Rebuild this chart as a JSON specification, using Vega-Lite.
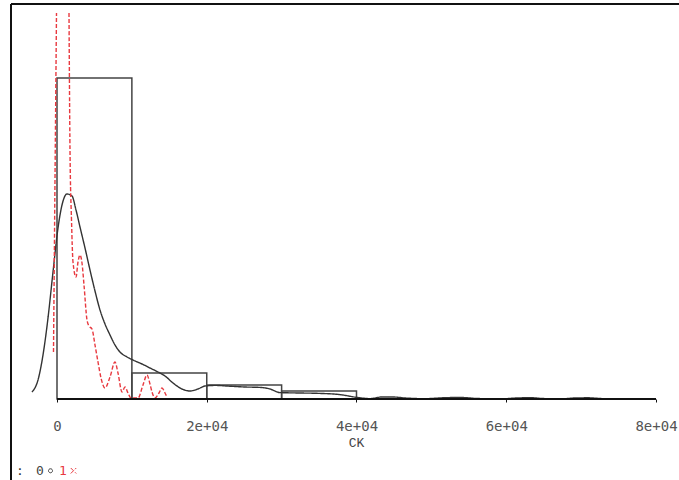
{
  "$schema": "https://vega.github.io/schema/vega-lite/v6.json",
  "width": 668,
  "height": 476,
  "autosize": {"type": "none"},
  "padding": {"left": 11, "top": 4, "right": 0, "bottom": 0},
  "background": "white",
  "config": {"view": {"stroke": null}},
  "datasets": {
    "hist": [
      {"lo": 0, "hi": 10000, "d": 8.025},
      {"lo": 10000, "hi": 20000, "d": 0.65},
      {"lo": 20000, "hi": 30000, "d": 0.35},
      {"lo": 30000, "hi": 40000, "d": 0.2}
    ],
    "dens": [
      {"grp": "0", "seg": "a", "x": -3339, "y": 0.175},
      {"grp": "0", "seg": "a", "x": -2538, "y": 0.475},
      {"grp": "0", "seg": "a", "x": -1870, "y": 1.1},
      {"grp": "0", "seg": "a", "x": -1202, "y": 2.025},
      {"grp": "0", "seg": "a", "x": -534, "y": 3.175},
      {"grp": "0", "seg": "a", "x": 134, "y": 4.275},
      {"grp": "0", "seg": "a", "x": 668, "y": 4.85},
      {"grp": "0", "seg": "a", "x": 1336, "y": 5.125},
      {"grp": "0", "seg": "a", "x": 2003, "y": 5.075},
      {"grp": "0", "seg": "a", "x": 2538, "y": 4.725},
      {"grp": "0", "seg": "a", "x": 3072, "y": 4.3},
      {"grp": "0", "seg": "a", "x": 3740, "y": 3.775},
      {"grp": "0", "seg": "a", "x": 4407, "y": 3.225},
      {"grp": "0", "seg": "a", "x": 5075, "y": 2.7},
      {"grp": "0", "seg": "a", "x": 5743, "y": 2.225},
      {"grp": "0", "seg": "a", "x": 6411, "y": 1.875},
      {"grp": "0", "seg": "a", "x": 7079, "y": 1.6},
      {"grp": "0", "seg": "a", "x": 7746, "y": 1.35},
      {"grp": "0", "seg": "a", "x": 8414, "y": 1.175},
      {"grp": "0", "seg": "a", "x": 9349, "y": 1.05},
      {"grp": "0", "seg": "a", "x": 10151, "y": 0.975},
      {"grp": "0", "seg": "a", "x": 11353, "y": 0.875},
      {"grp": "0", "seg": "a", "x": 12421, "y": 0.775},
      {"grp": "0", "seg": "a", "x": 13490, "y": 0.675},
      {"grp": "0", "seg": "a", "x": 14425, "y": 0.575},
      {"grp": "0", "seg": "a", "x": 15493, "y": 0.4},
      {"grp": "0", "seg": "a", "x": 16695, "y": 0.25},
      {"grp": "0", "seg": "a", "x": 17763, "y": 0.2},
      {"grp": "0", "seg": "a", "x": 18831, "y": 0.25},
      {"grp": "0", "seg": "a", "x": 19767, "y": 0.325},
      {"grp": "0", "seg": "a", "x": 21102, "y": 0.34},
      {"grp": "0", "seg": "a", "x": 23105, "y": 0.32},
      {"grp": "0", "seg": "a", "x": 25109, "y": 0.3},
      {"grp": "0", "seg": "a", "x": 27112, "y": 0.29},
      {"grp": "0", "seg": "a", "x": 28448, "y": 0.25},
      {"grp": "0", "seg": "a", "x": 29784, "y": 0.16},
      {"grp": "0", "seg": "a", "x": 32455, "y": 0.15},
      {"grp": "0", "seg": "a", "x": 35126, "y": 0.14},
      {"grp": "0", "seg": "a", "x": 37797, "y": 0.11},
      {"grp": "0", "seg": "a", "x": 40068, "y": 0.04},
      {"grp": "0", "seg": "a", "x": 41804, "y": 0.01},
      {"grp": "0", "seg": "a", "x": 43407, "y": 0.05},
      {"grp": "0", "seg": "a", "x": 44876, "y": 0.05},
      {"grp": "0", "seg": "a", "x": 46479, "y": 0.025},
      {"grp": "0", "seg": "a", "x": 49149, "y": 0.008},
      {"grp": "0", "seg": "a", "x": 51820, "y": 0.033},
      {"grp": "0", "seg": "a", "x": 53823, "y": 0.038},
      {"grp": "0", "seg": "a", "x": 56227, "y": 0.012},
      {"grp": "0", "seg": "a", "x": 59165, "y": 0.003},
      {"grp": "0", "seg": "a", "x": 61436, "y": 0.025},
      {"grp": "0", "seg": "a", "x": 63172, "y": 0.033},
      {"grp": "0", "seg": "a", "x": 64909, "y": 0.012},
      {"grp": "0", "seg": "a", "x": 67179, "y": 0.003},
      {"grp": "0", "seg": "a", "x": 69183, "y": 0.025},
      {"grp": "0", "seg": "a", "x": 70919, "y": 0.03},
      {"grp": "0", "seg": "a", "x": 72789, "y": 0.01},
      {"grp": "0", "seg": "a", "x": 75193, "y": 0},
      {"grp": "0", "seg": "a", "x": 77864, "y": 0},
      {"grp": "1", "seg": "b", "x": -467, "y": 1.175},
      {"grp": "1", "seg": "b", "x": -267, "y": 5.475},
      {"grp": "1", "seg": "b", "x": -67, "y": 9.65},
      {"grp": "1", "seg": "c", "x": 1603, "y": 9.65},
      {"grp": "1", "seg": "c", "x": 1736, "y": 6.225},
      {"grp": "1", "seg": "c", "x": 1937, "y": 4.475},
      {"grp": "1", "seg": "c", "x": 2137, "y": 3.425},
      {"grp": "1", "seg": "c", "x": 2538, "y": 3.05},
      {"grp": "1", "seg": "c", "x": 2805, "y": 3.425},
      {"grp": "1", "seg": "c", "x": 3072, "y": 3.6},
      {"grp": "1", "seg": "c", "x": 3339, "y": 3.4},
      {"grp": "1", "seg": "c", "x": 3606, "y": 2.85},
      {"grp": "1", "seg": "c", "x": 4007, "y": 1.975},
      {"grp": "1", "seg": "c", "x": 4274, "y": 1.825},
      {"grp": "1", "seg": "c", "x": 4675, "y": 1.75},
      {"grp": "1", "seg": "c", "x": 5075, "y": 1.35},
      {"grp": "1", "seg": "c", "x": 5476, "y": 0.925},
      {"grp": "1", "seg": "c", "x": 5877, "y": 0.525},
      {"grp": "1", "seg": "c", "x": 6411, "y": 0.275},
      {"grp": "1", "seg": "c", "x": 7079, "y": 0.55},
      {"grp": "1", "seg": "c", "x": 7746, "y": 0.925},
      {"grp": "1", "seg": "c", "x": 8147, "y": 0.65},
      {"grp": "1", "seg": "c", "x": 8681, "y": 0.175},
      {"grp": "1", "seg": "c", "x": 9082, "y": 0.3},
      {"grp": "1", "seg": "c", "x": 9483, "y": 0.15},
      {"grp": "1", "seg": "c", "x": 9883, "y": 0.025},
      {"grp": "1", "seg": "c", "x": 10818, "y": 0.025},
      {"grp": "1", "seg": "c", "x": 11486, "y": 0.35},
      {"grp": "1", "seg": "c", "x": 12020, "y": 0.6},
      {"grp": "1", "seg": "c", "x": 12421, "y": 0.375},
      {"grp": "1", "seg": "c", "x": 12688, "y": 0.175},
      {"grp": "1", "seg": "c", "x": 13089, "y": 0.025},
      {"grp": "1", "seg": "c", "x": 13623, "y": 0.15},
      {"grp": "1", "seg": "c", "x": 14024, "y": 0.275},
      {"grp": "1", "seg": "c", "x": 14425, "y": 0.15},
      {"grp": "1", "seg": "c", "x": 14692, "y": 0.05}
    ],
    "frame": [
      {"x": -6143.6, "x2": 83072, "y": 9.875, "y2": 9.875},
      {"x": -6143.6, "x2": -6143.6, "y": -2.025, "y2": 9.875}
    ],
    "baseline": [
      {"x": 0, "x2": 80000, "y": 0, "y2": 0}
    ]
  },
  "encoding": {
    "x": {
      "field": "x",
      "type": "quantitative",
      "scale": {"domain": [-6143.6, 83072], "nice": false, "zero": false},
      "axis": {
        "values": [0, 20000, 40000, 60000, 80000],
        "labelExpr": "datum.value == 0 ? '0' : (datum.value / 10000) + 'e+04'",
        "offset": -81,
        "domain": false,
        "grid": false,
        "ticks": true,
        "tickSize": 3,
        "tickColor": "#111111",
        "labelFont": "DejaVu Sans Mono",
        "labelFontSize": 14,
        "labelColor": "#555555",
        "labelPadding": 17,
        "labelFlush": false,
        "labelOverlap": false,
        "title": "CK",
        "titleFont": "Liberation Mono",
        "titleFontSize": 13,
        "titleFontWeight": "normal",
        "titleColor": "#444444",
        "titlePadding": 3,
        "titleX": 345
      }
    },
    "y": {
      "field": "y",
      "type": "quantitative",
      "scale": {"domain": [-2.025, 9.875], "nice": false, "zero": false},
      "axis": null
    }
  },
  "layer": [
    {
      "data": {"name": "frame"},
      "mark": {"type": "rule", "color": "#111111", "strokeWidth": 2},
      "encoding": {
        "x2": {"field": "x2"},
        "y2": {"field": "y2"}
      }
    },
    {
      "data": {"name": "hist"},
      "mark": {"type": "rect", "fill": null, "fillOpacity": 0, "stroke": "#444444", "strokeWidth": 1.5},
      "encoding": {
        "x": {"field": "lo", "type": "quantitative"},
        "x2": {"field": "hi"},
        "y": {"field": "d", "type": "quantitative"},
        "y2": {"datum": 0}
      }
    },
    {
      "data": {"name": "dens"},
      "mark": {"type": "line", "strokeWidth": 1.4, "interpolate": "monotone"},
      "encoding": {
        "detail": {"field": "seg", "type": "nominal"},
        "color": {
          "field": "grp",
          "type": "nominal",
          "scale": {"domain": ["0", "1"], "range": ["#333333", "#e8393f"]},
          "legend": {
            "orient": "none",
            "legendX": 5,
            "legendY": 460,
            "direction": "horizontal",
            "title": ":",
            "titleOrient": "left",
            "titleFont": "DejaVu Sans Mono",
            "titleFontSize": 13,
            "titleFontWeight": "normal",
            "titleColor": "#333333",
            "titlePadding": 8,
            "labelFont": "DejaVu Sans Mono",
            "labelFontSize": 13,
            "labelOffset": -21,
            "symbolOffset": 12,
            "symbolSize": 20,
            "symbolType": "circle",
            "symbolFillColor": "transparent",
            "symbolStrokeWidth": 1,
            "symbolDash": [1, 0],
            "columnPadding": 0,
            "padding": 0,
            "encode": {
              "labels": {"update": {"fill": {"signal": "datum.value == '1' ? '#e8393f' : '#444444'"}}},
              "symbols": {"update": {
                "shape": {"signal": "datum.value == '1' ? 'M-1,-1L1,1M-1,1L1,-1' : 'circle'"},
                "size": {"signal": "datum.value == '1' ? 30 : 16"}
              }}
            }
          }
        },
        "strokeDash": {
          "field": "grp",
          "type": "nominal",
          "scale": {"domain": ["0", "1"], "range": [[1, 0], [4, 2]]},
          "legend": null
        }
      }
    },
    {
      "data": {"name": "baseline"},
      "mark": {"type": "rule", "color": "#111111", "strokeWidth": 2},
      "encoding": {
        "x2": {"field": "x2"},
        "y2": {"field": "y2"}
      }
    }
  ]
}
